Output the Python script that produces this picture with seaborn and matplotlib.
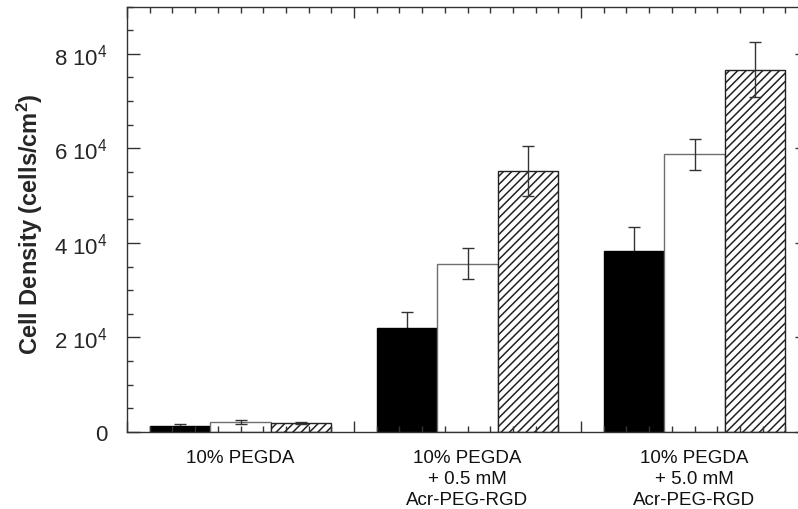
import numpy as np
import pandas as pd
import matplotlib
matplotlib.use("Agg")
import matplotlib.pyplot as plt
from matplotlib.ticker import MultipleLocator, FixedLocator, NullFormatter
import seaborn as sns

# ---- data ----
groups = ["10% PEGDA",
          "10% PEGDA\n+ 0.5 mM\nAcr-PEG-RGD",
          "10% PEGDA\n+ 5.0 mM\nAcr-PEG-RGD"]
series = ["Series 1", "Series 2", "Series 3"]
black_vals = [1330, 22100, 38300]
white_vals = [2100, 35600, 58700]
hatch_vals = [1900, 55200, 76600]
black_err = [360, 3300, 5000]
white_err = [420, 3300, 3350]
hatch_err = [280, 5200, 5800]
ytick_vals = [0, 20000, 40000, 60000, 80000]
ytick_labels = ["0", "2 $10^{4}$", "4 $10^{4}$", "6 $10^{4}$", "8 $10^{4}$"]
ylabel = "Cell Density (cells/cm$^{2}$)"

sns.set_style("ticks")
plt.rcParams["font.family"] = ["Liberation Sans", "DejaVu Sans"]
plt.rcParams["mathtext.default"] = "regular"
plt.rcParams["hatch.linewidth"] = 1.1

df = pd.DataFrame({
    "group": groups * 3,
    "series": [series[0]] * 3 + [series[1]] * 3 + [series[2]] * 3,
    "value": black_vals + white_vals + hatch_vals,
})
errs = [black_err, white_err, hatch_err]
vals = [black_vals, white_vals, hatch_vals]

fig = plt.figure(figsize=(7.98, 5.10), dpi=100)
W, H = 798, 510
ax = fig.add_axes([127 / W, (H - 433) / H, (808 - 127) / W, (433 - 7.5) / H])

sns.barplot(data=df, x="group", y="value", hue="series", order=groups,
            hue_order=series, palette=["black", "white", "white"],
            saturation=1, errorbar=None, width=0.8, legend=False, ax=ax)

edge_cols = ["black", "#6e6e6e", "#222222"]
hatches = [None, None, "////"]
err_z = [0.5, 3, 3]
bar_conts = list(ax.containers)
for i, cont in enumerate(bar_conts):
    xs = []
    for bar in cont.patches:
        bar.set_edgecolor(edge_cols[i])
        bar.set_linewidth(1.0)
        if hatches[i]:
            bar.set_hatch(hatches[i])
        xs.append(bar.get_x() + bar.get_width() / 2)
    ax.errorbar(xs, vals[i], yerr=errs[i], fmt="none", ecolor="#333333",
                elinewidth=1.0, capsize=4, capthick=1.0, zorder=err_z[i])

ax.set_xlim(-0.5, 2.5)
ax.set_ylim(0, 90000)
ax.set_axisbelow(False)

# y ticks
ax.set_yticks(ytick_vals, ytick_labels)
ax.yaxis.set_minor_locator(MultipleLocator(5000))
# x ticks
ax.xaxis.set_major_locator(FixedLocator([-0.5, 0.5, 1.5, 2.5]))
ax.xaxis.set_major_formatter(NullFormatter())
ax.xaxis.set_minor_locator(MultipleLocator(0.1))

ax.tick_params(which="both", direction="in", top=True, right=True,
               color="#333333", width=1.0)
ax.tick_params(axis="y", which="major", length=9.5, labelsize=16, pad=14)
ax.tick_params(axis="y", which="minor", length=4.5)
ax.tick_params(axis="x", which="major", length=8)
ax.tick_params(axis="x", which="minor", length=4.5)

for s in ax.spines.values():
    s.set_color("#333333")
    s.set_linewidth(1.0)
    s.set_visible(True)

ax.set_xlabel("")
ax.set_ylabel(ylabel, fontsize=17, fontweight="bold")
ax.yaxis.set_label_coords(-0.121, 0.492)

for i, g in enumerate(groups):
    ax.text(i, -0.040, g, transform=ax.get_xaxis_transform(), ha="center",
            va="top", fontsize=13.5, linespacing=1.3, color="#111111")

fig.savefig("out.png", dpi=100)
